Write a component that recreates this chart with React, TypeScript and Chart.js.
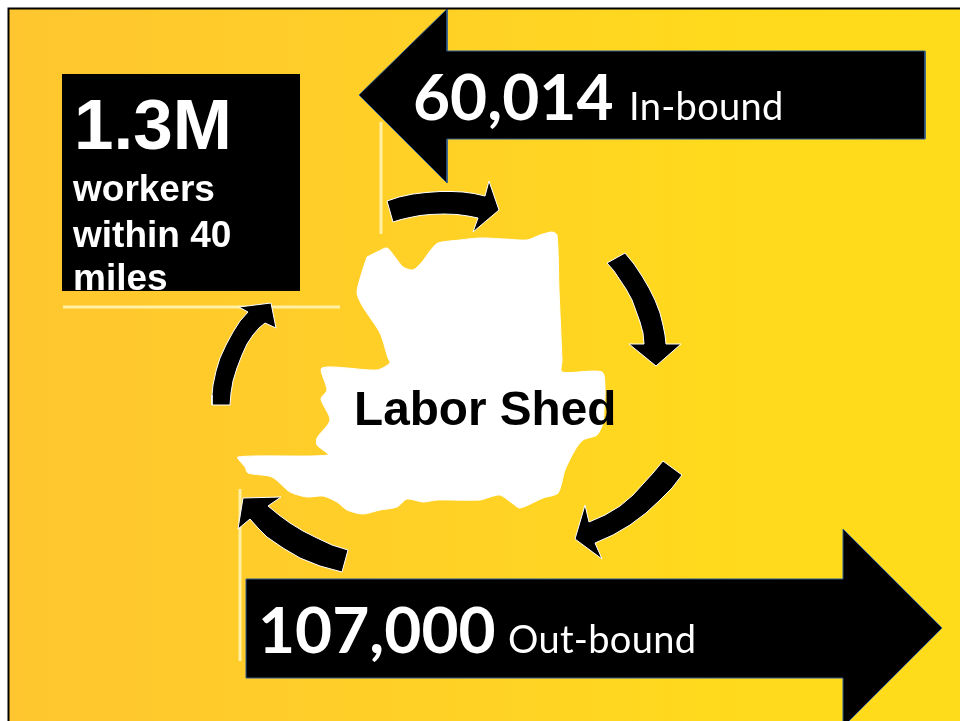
import React, { useEffect, useRef } from "react";
import { Chart, registerables } from "chart.js";

Chart.register(...registerables);

type P = [number, number];

const frameLine: P[] = [[960, 8.5], [8.5, 8.5], [8.5, 721]];
const guideTop: P[] = [[381, 122], [381, 234]];
const guideMiddle: P[] = [[63, 307], [340, 307]];
const guideBottom: P[] = [[240, 489], [240, 661]];
const workersBox: P[] = [[62, 74], [300, 74], [300, 291], [62, 291]];
const inboundArrow: P[] = [[359, 95], [447, 9], [447, 51], [925, 51], [925, 139], [447, 139], [447, 183]];
const outboundArrow: P[] = [[246, 579], [843, 579], [843, 529], [942, 628], [843, 727], [843, 678], [246, 678]];
const shedOutline: P[] = [
  [367, 257], [377, 252], [387, 248], [395, 257], [403, 267], [413, 270], [422, 262], [430, 251], [438, 243],
  [460, 240], [480, 238], [505, 239], [527, 240], [540, 235], [552, 232], [557, 235], [559, 290], [562, 360], [562, 372],
  [602, 372], [605, 390], [604, 410], [603, 423], [597, 435], [583, 440], [575, 450], [565, 470], [558, 493], [543, 498],
  [520, 508], [512, 503], [500, 495], [490, 497], [480, 500], [437, 500], [423, 502], [407, 499], [397, 507], [380, 510],
  [363, 514], [347, 510], [337, 502], [323, 496], [307, 497], [290, 492], [272, 477], [248, 473], [245, 467], [238, 457],
  [328, 455], [317, 445], [317, 438], [330, 420], [321, 399], [327, 390], [322, 368], [377, 370], [390, 363], [388, 358],
  [380, 333], [363, 307], [357, 293], [362, 272],
];
const cycleTop: P[] = [
  [387, 201], [399, 197], [413, 194], [426, 192.5], [440, 191.5], [452, 191.5], [463, 192], [474, 193.5], [485, 196],
  [489, 181], [499, 210], [473, 232], [478, 218], [468, 216], [457, 214.5], [444, 214], [430, 214.5], [420, 215.5],
  [410, 217.5], [401, 219.5], [393, 222],
];
const cycleRight: P[] = [
  [607, 263], [625, 253], [634, 264], [642, 276], [649, 288], [655, 300], [660, 313], [663, 325], [665, 335], [666, 344],
  [681, 344], [656, 366], [629, 344], [644, 344], [643, 333], [640, 322], [636, 311], [632, 300], [626, 289], [620, 280],
  [614, 271],
];
const cycleLowerRight: P[] = [
  [663, 461], [682, 475], [672, 488], [660, 500], [646, 513], [630, 525], [613, 535], [595, 543], [602, 559], [575, 539],
  [585, 505], [589, 522], [605, 515], [620, 506], [633, 495], [643, 484], [653, 473],
];
const cycleLowerLeft: P[] = [
  [348, 550], [332, 545], [317, 538], [303, 531], [290, 523], [279, 515], [268, 506], [281, 497], [243, 498], [238, 529],
  [250, 519], [258, 528], [267, 537], [283, 548], [300, 558], [320, 566], [342, 572],
];
const cycleLeft: P[] = [
  [212, 405], [230, 405], [231, 393], [233, 381], [237, 368], [242, 355], [247, 344], [253, 335], [259, 328], [265, 323],
  [276, 328], [271, 303], [239, 307], [248, 312], [240, 321], [233, 332], [226, 345], [220, 358], [216, 371], [213, 385],
  [212, 395],
];

const textLabels = ["1.3M", "workers", "within 40", "miles", "60,014", "In-bound", "107,000", "Out-bound", "Labor Shed"];

const ARIAL = '"Liberation Sans", Arial, sans-serif';
const SANS = 'Lato, "Noto Sans", sans-serif';
const textStyles = [
  { x: 74, y: 149, font: `bold 71px ${ARIAL}`, color: "#fff", spacing: "0px" },
  { x: 73, y: 201, font: `bold 37px ${ARIAL}`, color: "#fff", spacing: "0px" },
  { x: 73, y: 247, font: `bold 37px ${ARIAL}`, color: "#fff", spacing: "0px" },
  { x: 73, y: 289.5, font: `bold 37px ${ARIAL}`, color: "#fff", spacing: "0px" },
  { x: 413, y: 120, font: `bold 64px ${SANS}`, color: "#fff", spacing: "0px" },
  { x: 629, y: 120, font: `38px ${SANS}`, color: "#fff", spacing: "0.3px" },
  { x: 258, y: 653, font: `bold 64px ${SANS}`, color: "#fff", spacing: "0px" },
  { x: 508, y: 653, font: `38px ${SANS}`, color: "#fff", spacing: "0.3px" },
  { x: 354, y: 425, font: `bold 47.7px ${ARIAL}`, color: "#000", spacing: "0px" },
];

const toData = (pts: P[]) => pts.map(([x, y]) => ({ x, y }));
const closed = (pts: P[]) => toData([...pts, pts[0]]);

const shape = (pts: P[], fillColor: string, edge: string, edgeWidth: number, tension = 0) => ({
  data: closed(pts),
  showLine: true,
  fill: "shape" as const,
  backgroundColor: fillColor,
  borderColor: edge,
  borderWidth: edgeWidth,
  pointRadius: 0,
  tension,
});
const line = (pts: P[], color: string, width: number) => ({
  data: toData(pts),
  showLine: true,
  fill: false,
  borderColor: color,
  borderWidth: width,
  pointRadius: 0,
  tension: 0,
});

const backdrop = {
  id: "backdrop",
  beforeDatasetsDraw(chart: any) {
    const { ctx, scales } = chart;
    const l = scales.x.getPixelForValue(9);
    const r = scales.x.getPixelForValue(960);
    const t = scales.y.getPixelForValue(9);
    const b = scales.y.getPixelForValue(721);
    const g = ctx.createLinearGradient(l, 0, r, 0);
    g.addColorStop(0, "#FFC62F");
    g.addColorStop(0.5, "#FFD225");
    g.addColorStop(0.75, "#FFDA1C");
    g.addColorStop(1, "#FFDC1B");
    ctx.save();
    ctx.fillStyle = g;
    ctx.fillRect(l, t, r - l, b - t);
    ctx.restore();
  },
};

const captions = {
  id: "captions",
  afterDatasetsDraw(chart: any) {
    const { ctx, scales } = chart;
    ctx.save();
    ctx.textBaseline = "alphabetic";
    textLabels.forEach((label, i) => {
      const s = textStyles[i];
      ctx.font = s.font;
      ctx.letterSpacing = s.spacing;
      ctx.fillStyle = s.color;
      ctx.fillText(label, scales.x.getPixelForValue(s.x), scales.y.getPixelForValue(s.y));
    });
    ctx.restore();
  },
};

export default function App() {
  const ref = useRef<HTMLCanvasElement>(null);
  useEffect(() => {
    if (!ref.current) return;
    const WHITE = "#FFFFFF";
    const GUIDE = "#FFF0A6";
    const BLUE = "#2F5A8F";
    const layers = [
      shape(shedOutline, WHITE, WHITE, 1, 0.25),
      line(guideTop, GUIDE, 3),
      line(guideMiddle, GUIDE, 3),
      line(guideBottom, GUIDE, 3),
      shape(inboundArrow, "#000", BLUE, 1),
      shape(outboundArrow, "#000", BLUE, 1),
      shape(workersBox, "#000", "#000", 0),
      shape(cycleTop, "#000", WHITE, 1),
      shape(cycleRight, "#000", WHITE, 1),
      shape(cycleLowerRight, "#000", WHITE, 1),
      shape(cycleLowerLeft, "#000", WHITE, 1),
      shape(cycleLeft, "#000", WHITE, 1),
      line(frameLine, "#000", 2),
    ];
    const chart = new Chart(ref.current, {
      type: "scatter",
      data: { datasets: layers.map((d, i) => ({ ...d, order: layers.length - i })) as any },
      options: {
        animation: false,
        responsive: false,
        devicePixelRatio: 1,
        layout: { padding: 0 },
        plugins: { legend: { display: false }, title: { display: false }, tooltip: { enabled: false } },
        events: [],
        scales: {
          x: { type: "linear", min: 0, max: 960, display: false },
          y: { type: "linear", min: 0, max: 721, reverse: true, display: false },
        },
      },
      plugins: [backdrop, captions],
    });
    return () => chart.destroy();
  }, []);
  return (
    <div style={{ position: "fixed", left: 0, top: 0, width: 960, height: 721, background: "#fff", overflow: "hidden" }}>
      <canvas ref={ref} width={960} height={721} style={{ display: "block" }} />
    </div>
  );
}
